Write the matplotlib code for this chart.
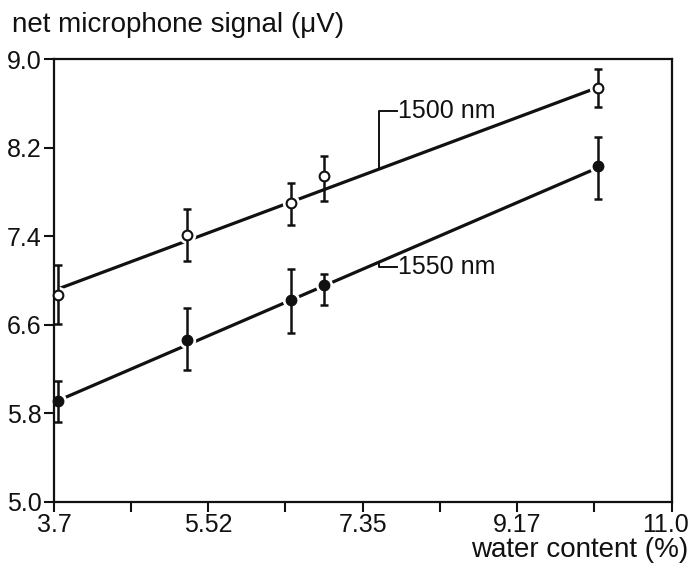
import matplotlib.pyplot as plt
import matplotlib.transforms as mtransforms
import numpy as np

# water content (%) at each measurement
water = [3.75, 5.27, 6.50, 6.89, 10.13]

# net microphone signal (uV) at 1500 nm, open circles
signal_1500 = [6.87, 7.41, 7.70, 7.94, 8.74]
err_1500_lo = [0.26, 0.23, 0.20, 0.22, 0.17]
err_1500_hi = [0.27, 0.24, 0.18, 0.18, 0.17]

# net microphone signal (uV) at 1550 nm, filled circles
signal_1550 = [5.91, 6.46, 6.82, 6.96, 8.03]
err_1550_lo = [0.19, 0.27, 0.29, 0.18, 0.29]
err_1550_hi = [0.18, 0.29, 0.28, 0.10, 0.27]

# straight-line fits (end points)
fit_x = [3.7, 10.13]
fit_1500 = [6.91, 8.745]
fit_1550 = [5.90, 8.02]

x_ticks = [3.7, 5.52, 7.35, 9.17, 11.0]
x_tick_labels = ["3.7", "5.52", "7.35", "9.17", "11.0"]
y_ticks = [5.0, 5.8, 6.6, 7.4, 8.2, 9.0]
y_tick_labels = ["5.0", "5.8", "6.6", "7.4", "8.2", "9.0"]

plt.rcParams['font.family'] = ['Liberation Sans', 'DejaVu Sans']
plt.rcParams['font.size'] = 18

fig = plt.figure(figsize=(6.92, 5.68), dpi=100)
ax = fig.add_axes([0.078, 0.1162, 0.893, 0.7799])

ink = '#111111'

for fit, sig, lo, hi, face in [
    (fit_1500, signal_1500, err_1500_lo, err_1500_hi, 'white'),
    (fit_1550, signal_1550, err_1550_lo, err_1550_hi, ink),
]:
    ax.plot(fit_x, fit, color=ink, lw=2.3, zorder=1, clip_on=False,
            solid_capstyle='butt')
    # white gap round each point so the fit line stops short of it
    ax.plot(water, sig, ls='none', marker='o', ms=12.5, mfc='white',
            mec='none', zorder=2, clip_on=False)
    eb = ax.errorbar(water, sig, yerr=[lo, hi], fmt='none', ecolor=ink,
                     elinewidth=1.8, capsize=3, capthick=1.8, zorder=3)
    for art in eb.get_children():
        art.set_clip_on(False)
    ax.plot(water, sig, ls='none', marker='o', ms=7, mfc=face, mec=ink,
            mew=1.5, zorder=4, clip_on=False)

# leader lines and wavelength labels
lead_x = 7.54
lead_end = 7.75
y_on_1500 = np.interp(lead_x, fit_x, fit_1500)
y_on_1550 = np.interp(lead_x, fit_x, fit_1550)
ax.plot([lead_x, lead_x, lead_end], [y_on_1500, 8.527, 8.527],
        color=ink, lw=1.4, zorder=1)
ax.plot([lead_x, lead_x, lead_end], [y_on_1550, 7.121, 7.121],
        color=ink, lw=1.4, zorder=1)
ax.text(lead_end + 0.01, 8.527, "1500 nm", va='center', ha='left', color=ink)
ax.text(lead_end + 0.01, 7.121, "1550 nm", va='center', ha='left', color=ink)

ax.set_xlim(3.7, 11.0)
ax.set_ylim(5.0, 9.0)
ax.set_xticks(x_ticks)
ax.set_xticklabels(x_tick_labels)
ax.set_xticks([4.61, 6.435, 8.26, 10.085], minor=True)
ax.set_yticks(y_ticks)
ax.set_yticklabels(y_tick_labels)
ax.tick_params(axis='both', which='both', direction='out', length=7,
               width=1.5, color=ink, labelcolor=ink, pad=1)
ax.tick_params(axis='y', pad=2)
for sp in ax.spines.values():
    sp.set_linewidth(1.6)
    sp.set_color(ink)

# pull the last x label in so it stays inside the figure
last = ax.get_xticklabels()[-1]
last.set_transform(last.get_transform() +
                   mtransforms.ScaledTranslation(-6 / 100, 0, fig.dpi_scale_trans))

fig.text(12 / 692, 1 - 32 / 568, "net microphone signal (μV)",
         ha='left', va='baseline', color=ink, fontsize=20)
fig.text(688 / 692, 1 - 550 / 568, "water content (%)",
         ha='right', va='center', color=ink, fontsize=20)

fig.savefig("out.png", dpi=100)
